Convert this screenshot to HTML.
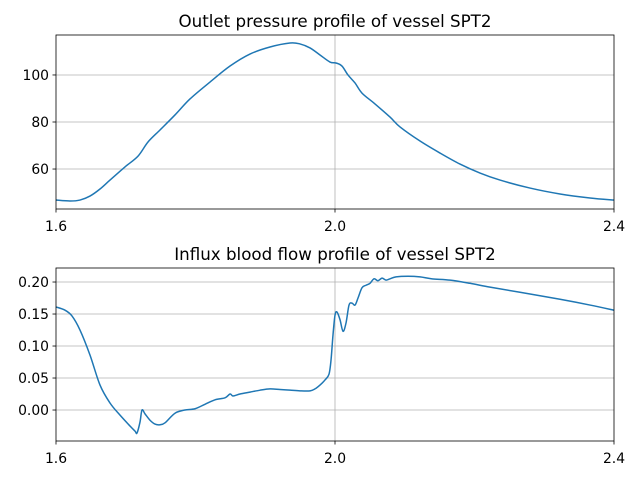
<!DOCTYPE html>
<html><head><meta charset="utf-8"><style>
html,body{margin:0;padding:0;background:#fff;}
svg text{font-family:"DejaVu Sans","Liberation Sans",sans-serif;fill:#000;}
</style></head><body>
<svg id="chart" width="640" height="480" xmlns="http://www.w3.org/2000/svg"></svg>
<script>
// Top chart data (outlet pressure)
const pressureX = [1.6,1.6201,1.6344,1.6487,1.6631,1.6774,1.6989,1.7176,1.7319,1.7491,1.7706,1.7921,1.8208,1.8495,1.8781,1.9068,1.9355,1.9498,1.9642,1.9785,1.9928,2.0014,2.01,2.0186,2.0287,2.0387,2.0573,2.0789,2.0932,2.1219,2.1505,2.1792,2.2079,2.2366,2.2796,2.3226,2.3656,2.4];
const pressureVals = [46.8,46.4,46.8,48.5,51.5,55.3,60.9,65.5,71.5,76.6,83,89.8,97,103.8,108.9,111.9,113.6,113.2,111.5,108.5,105.5,105.1,103.8,100,96.6,92.3,87.7,82.1,77.9,71.9,66.8,62.1,58.3,55.3,51.9,49.4,47.7,46.8];
// Bottom chart data (influx blood flow)
const flowTime = [1.6,1.6129,1.6229,1.6344,1.6487,1.6631,1.6774,1.6918,1.7061,1.7133,1.7161,1.7204,1.7233,1.7276,1.7348,1.7419,1.7491,1.7563,1.7706,1.7849,1.7993,1.8136,1.828,1.8423,1.8495,1.8538,1.8638,1.8781,1.8925,1.9068,1.9211,1.9355,1.9498,1.9642,1.9713,1.9785,1.9857,1.9914,1.9943,1.9971,2.0,2.0029,2.0072,2.0115,2.0158,2.0201,2.0244,2.0287,2.033,2.0387,2.0444,2.0502,2.0559,2.0616,2.0674,2.0731,2.0789,2.0875,2.1047,2.1219,2.1391,2.1649,2.1935,2.2222,2.2652,2.3226,2.3656,2.4];
const flowY = [0.161,0.156,0.147,0.125,0.086,0.039,0.011,-0.008,-0.025,-0.033,-0.036,-0.019,0.0,-0.006,-0.016,-0.022,-0.023,-0.020,-0.005,0.0,0.002,0.009,0.016,0.019,0.025,0.022,0.025,0.028,0.031,0.033,0.032,0.031,0.030,0.030,0.033,0.039,0.047,0.056,0.078,0.117,0.148,0.153,0.141,0.123,0.136,0.164,0.167,0.164,0.175,0.191,0.195,0.198,0.205,0.202,0.206,0.203,0.205,0.208,0.209,0.208,0.205,0.203,0.198,0.192,0.184,0.173,0.164,0.156];
const xTicks = [1.6,2.0,2.4];
const xTickLabels = ["1.6","2.0","2.4"];
const pTicks = [60,80,100];
const pTickLabels = ["60","80","100"];
const fTicks = [0,0.05,0.10,0.15,0.20];
const fTickLabels = ["0.00","0.05","0.10","0.15","0.20"];
</script>
<script>
const NS="http://www.w3.org/2000/svg";
const svg=document.getElementById('chart');
function mk(t,a,p){const e=document.createElementNS(NS,t);for(const k in a)e.setAttribute(k,a[k]);(p||svg).appendChild(e);return e;}
const L=56,R=614;
const sx=v=>L+(v-1.6)/0.8*(R-L);
function smoothPath(pts){let d='M'+pts[0][0].toFixed(2)+','+pts[0][1].toFixed(2);
 for(let i=0;i<pts.length-1;i++){const p0=pts[Math.max(0,i-1)],p1=pts[i],p2=pts[i+1],p3=pts[Math.min(pts.length-1,i+2)];
  const c1=[p1[0]+(p2[0]-p0[0])/6,p1[1]+(p2[1]-p0[1])/6],c2=[p2[0]-(p3[0]-p1[0])/6,p2[1]-(p3[1]-p1[1])/6];
  d+='C'+c1.map(v=>v.toFixed(2)).join(',')+' '+c2.map(v=>v.toFixed(2)).join(',')+' '+p2.map(v=>v.toFixed(2)).join(',');}return d;}
function panel(name,top,bot,ymin,ymax,yt,ytl,title,xs,ys){
 const g=mk('g',{});
 
 
 const sy=v=>bot-(v-ymin)/(ymax-ymin)*(bot-top);
 yt.forEach((v,i)=>{const y=sy(v);
  const gl=mk('line',{x1:L,x2:R,y1:y,y2:y,stroke:'#b0b0b0','stroke-width':0.8},g);
  
  
  mk('line',{x1:L-3.5,x2:L,y1:y,y2:y,stroke:'#000','stroke-width':0.8},g);
  const t=mk('text',{x:L-7,y:y+5,'text-anchor':'end','font-size':13.9},g);t.textContent=ytl[i];
  
  });
 xTicks.forEach((v,i)=>{const x=sx(v);
  if(i===1){const gl=mk('line',{x1:x,x2:x,y1:top,y2:bot,stroke:'#b0b0b0','stroke-width':0.8},g);
   
   }
  mk('line',{x1:x,x2:x,y1:bot,y2:bot+3.5,stroke:'#000','stroke-width':0.8},g);
  const t=mk('text',{x:x,y:bot+22,'text-anchor':'middle','font-size':13.9},g);t.textContent=xTickLabels[i];
  
  });
 const pts=xs.map((x,i)=>[sx(x),sy(ys[i])]);
 const path=mk('path',{d:smoothPath(pts),fill:'none',stroke:'#1f77b4','stroke-width':1.5,'stroke-linejoin':'round'},g);
 
 
 const fr=mk('rect',{x:L,y:top,width:R-L,height:bot-top,fill:'none',stroke:'#000','stroke-width':0.8},g);
 
 
 const tt=mk('text',{x:(L+R)/2,y:top-8,'text-anchor':'middle','font-size':16.7},g);tt.textContent=title;
 
 
}
panel('pressure-panel',35,209,43.0,117.0,pTicks,pTickLabels,'Outlet pressure profile of vessel SPT2',pressureX,pressureVals);
panel('flow-panel',268,441,-0.0484,0.2219,fTicks,fTickLabels,'Influx blood flow profile of vessel SPT2',flowTime,flowY);
</script>
</body></html>
